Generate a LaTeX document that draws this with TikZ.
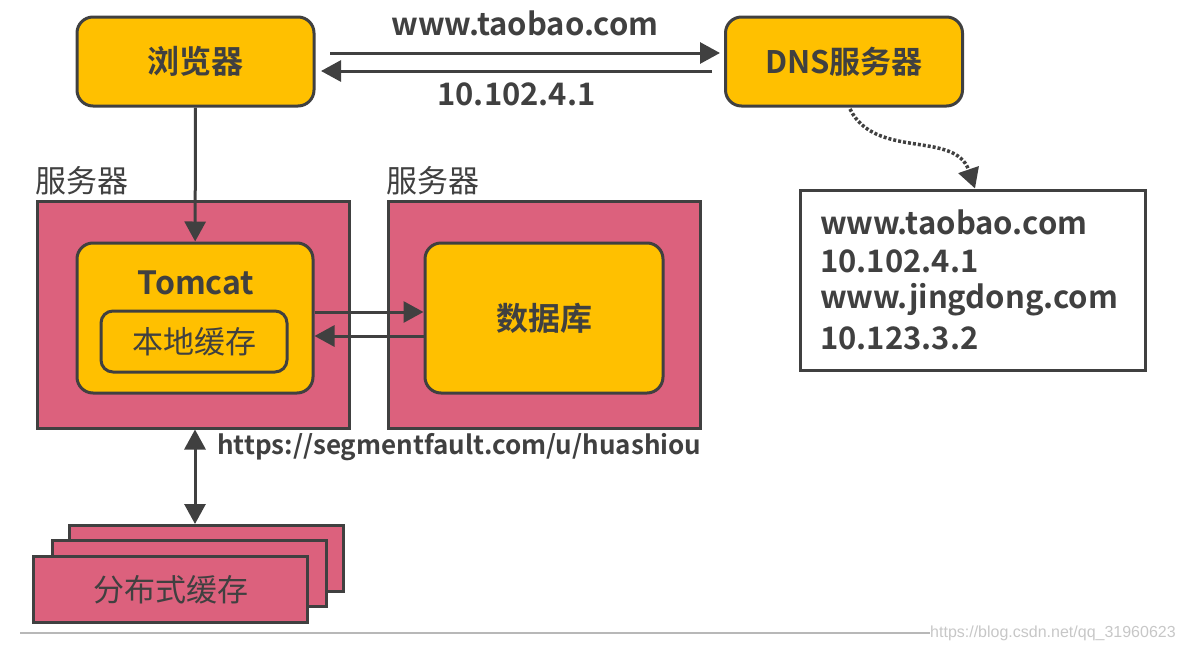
\documentclass[tikz,border=0pt]{standalone}
\usepackage{fontspec}
\setmainfont{Noto Sans CJK SC}[BoldFont={Noto Sans CJK SC Bold}]
\newfontfamily\markfont{Liberation Sans}
\usetikzlibrary{arrows.meta}
\definecolor{boxyellow}{RGB}{255,192,0}
\definecolor{srvpink}{RGB}{220,97,125}
\definecolor{edgegray}{RGB}{64,64,64}

\tikzset{
  txt/.style = {text = edgegray, font = \bfseries\fontsize{#1}{#1}\selectfont, inner sep = 0pt},
  txt/.default = 31,
  rbox/.style = {draw = edgegray, line width = 3pt, fill = boxyellow, rounded corners = 16pt,
                 txt, minimum width = 237pt, minimum height = 89pt},
  srv/.style = {draw = edgegray, line width = 3pt, fill = srvpink, inner sep = 0pt,
                minimum width = 312pt, minimum height = 227pt},
  stack/.style = {draw = edgegray, line width = 3pt, fill = srvpink, txt,
                  minimum width = 274pt, minimum height = 66pt},
  link/.style = {draw = edgegray, line width = 3pt, -{Triangle[length = 20pt, width = 21pt]}},
}

\begin{document}
\begin{tikzpicture}[x = 1pt, y = -1pt]
\useasboundingbox (0,0) rectangle (1183,651);

% top row
\node[rbox, txt = 32] (browser) at (195.5,61.5) {浏览器};
\node[rbox] (dns) at (844,61.5) {DNS服务器};
\coordinate (q1) at (330,53);
\coordinate (q2) at (720,53);
\coordinate (r1) at (712,71);
\coordinate (r2) at (321,71);
\draw[link] (q1) -- (q2) node[midway, above = 16pt, txt] {www.taobao.com};
\draw[link] (r1) -- (r2) node[midway, below = 10pt, txt] {10.102.4.1};

% dns table
\node[draw = edgegray, line width = 3pt, fill = white, minimum width = 345pt, minimum height = 180pt] (table) at (972.5,280) {};
\node[txt, anchor = west] (t1) at (820,222) {www.taobao.com};
\node[txt, anchor = west] (t2) at (820,261) {10.102.4.1};
\node[txt, anchor = west] (t3) at (820,300) {www.jingdong.com};
\node[txt, anchor = west] (t4) at (820,338) {10.123.3.2};
\coordinate (d0) at (850,109);
\draw[link, dotted, line width = 3.5pt] (d0) .. controls (875,160) and (955,130) .. (table.north -| 975,0);

% servers
\node[srv] (srvA) at (193,314.5) {};
\node[srv] (srvB) at (544,314.5) {};
\node[txt = 31, anchor = south west] (labA) at (srvA.north west) [yshift = 4pt] {\mdseries 服务器};
\node[txt = 31, anchor = south west] (labB) at (srvB.north west) [yshift = 4pt] {\mdseries 服务器};
\node[rbox, minimum height = 150pt, minimum width = 236pt] (tomcat) at (195,318) {};
\node[txt = 32] (tomname) at (196,283) {Tomcat};
\node[draw = edgegray, line width = 3pt, fill = boxyellow, rounded corners = 12pt,
      txt = 31, minimum width = 186pt, minimum height = 61pt] (local) at (194,341.5) {\mdseries 本地缓存};
\node[rbox, txt = 32, minimum height = 150pt, minimum width = 238pt] (db) at (544,318) {数据库};
\draw[link] (tomcat.east |- 0,312) -- (db.west |- 0,312);
\draw[link] (db.west |- 0,336) -- (tomcat.east |- 0,336);
\draw[link] (browser) -- (tomcat);

% distributed cache
\node[stack] (dist3) at (206,558.5) {};
\node[stack] (dist2) at (189.5,573) {};
\node[stack] (dist1) at (170.5,589.5) {\mdseries 分布式缓存};
\draw[link, {Triangle[length = 20pt, width = 21pt]}-{Triangle[length = 20pt, width = 21pt]}] (srvA.south -| 195,0) -- (dist3.north -| 195,0);
\node[txt = 26, anchor = west] (url) at (217,447) {https://segmentfault.com/u/huashiou};

% footer
\node[anchor = west, inner sep = 0pt, text = black!22, font = \markfont\fontsize{16}{16}\selectfont] (mark) at (930,633) {https://blog.csdn.net/qq\_31960623};
\coordinate (f0) at (20,633);
\draw[black!28, line width = 1.2pt] (f0) -- (mark.west);
\end{tikzpicture}
\end{document}
